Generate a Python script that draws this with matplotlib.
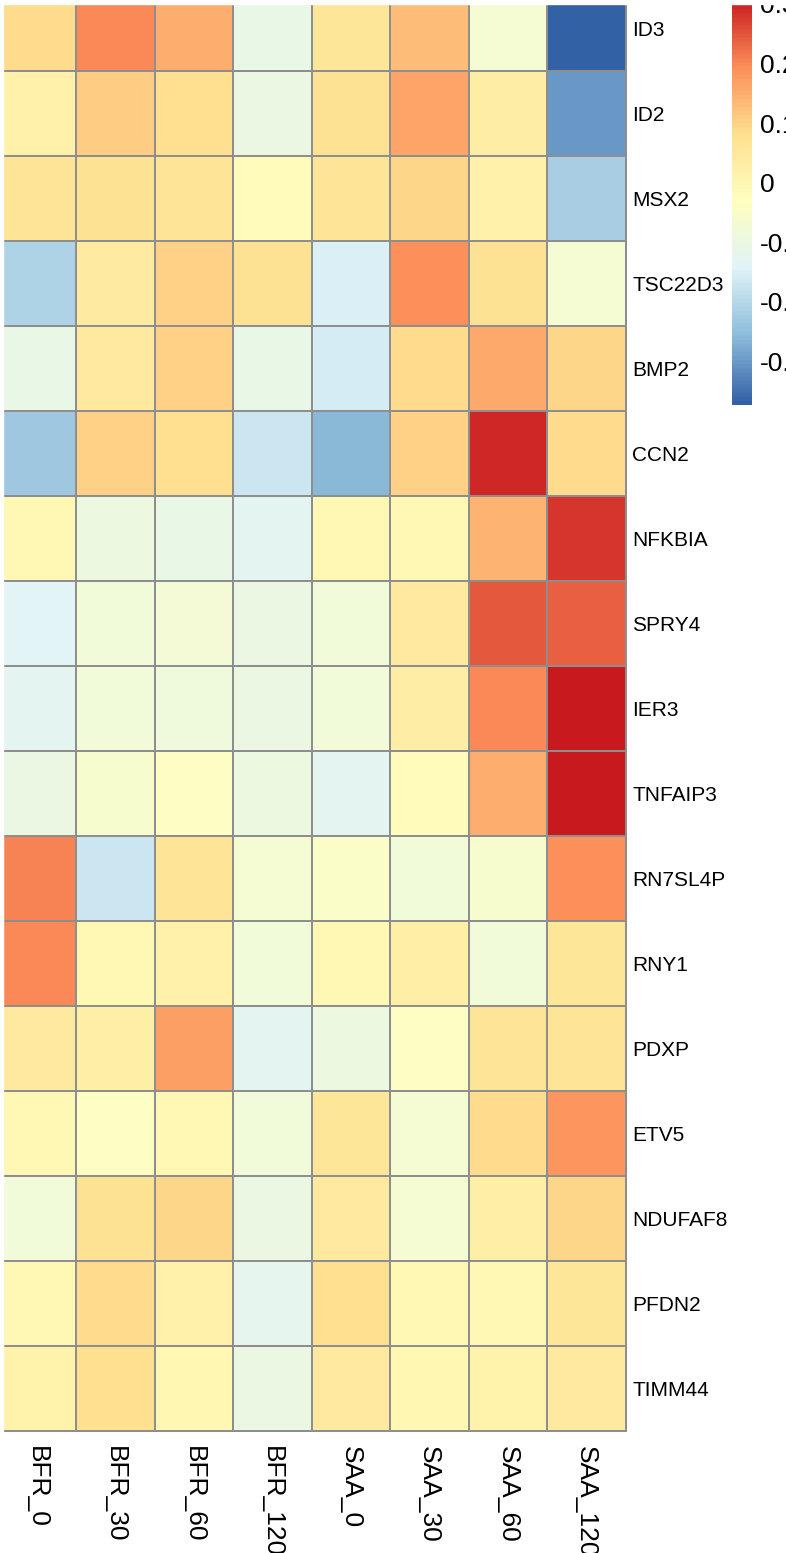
import numpy as np
import matplotlib
matplotlib.use("Agg")
import matplotlib.pyplot as plt
from matplotlib.colors import LinearSegmentedColormap
from matplotlib.patches import Rectangle

samples = ["BFR_0", "BFR_30", "BFR_60", "BFR_120", "SAA_0", "SAA_30", "SAA_60", "SAA_120"]
genes = ["ID3", "ID2", "MSX2", "TSC22D3", "BMP2", "CCN2", "NFKBIA", "SPRY4", "IER3",
         "TNFAIP3", "RN7SL4P", "RNY1", "PDXP", "ETV5", "NDUFAF8", "PFDN2", "TIMM44"]

# values, one list per gene (columns as in samples)
id3 = [0.09, 0.20, 0.15, -0.11, 0.06, 0.13, -0.07, -0.373]
id2 = [0.02, 0.11, 0.08, -0.10, 0.075, 0.16, 0.03, -0.30]
msx2 = [0.07, 0.075, 0.07, -0.02, 0.065, 0.095, 0.02, -0.22]
tsc22d3 = [-0.21, 0.04, 0.105, 0.075, -0.15, 0.19, 0.075, -0.07]
bmp2 = [-0.11, 0.05, 0.10, -0.11, -0.16, 0.085, 0.155, 0.095]
ccn2 = [-0.23, 0.10, 0.08, -0.17, -0.26, 0.105, 0.29, 0.085]
nfkbia = [-0.01, -0.095, -0.11, -0.13, -0.01, -0.01, 0.145, 0.28]
spry4 = [-0.14, -0.085, -0.075, -0.10, -0.08, 0.05, 0.245, 0.24]
ier3 = [-0.13, -0.08, -0.09, -0.10, -0.085, 0.035, 0.20, 0.31]
tnfaip3 = [-0.10, -0.06, -0.045, -0.095, -0.13, -0.02, 0.15, 0.305]
rn7sl4p = [0.205, -0.17, 0.07, -0.07, -0.05, -0.08, -0.06, 0.19]
rny1 = [0.20, -0.01, 0.02, -0.08, -0.01, 0.025, -0.08, 0.06]
pdxp = [0.05, 0.025, 0.17, -0.13, -0.095, -0.045, 0.07, 0.07]
etv5 = [-0.01, -0.045, -0.005, -0.08, 0.06, -0.07, 0.085, 0.185]
ndufaf8 = [-0.08, 0.075, 0.095, -0.10, 0.05, -0.07, 0.025, 0.095]
pfdn2 = [-0.01, 0.09, 0.02, -0.125, 0.08, -0.005, -0.005, 0.06]
timm44 = [0.01, 0.08, 0.0, -0.10, 0.05, 0.0, 0.015, 0.05]

cbar_ticks = [-0.3, -0.2, -0.1, 0, 0.1, 0.2, 0.3]
cbar_labels = ["-0.3", "-0.2", "-0.1", "0", "0.1", "0.2", "0.3"]

VMIN, VMAX = -0.373, 0.31
palette = ["#3361A6", "#8DBCDA", "#E0F3F8", "#FFFFBF", "#FEE090", "#FC8D59", "#C8191E"]
cmap = LinearSegmentedColormap.from_list("rdylbu_r", palette, N=100)

data = np.array([id3, id2, msx2, tsc22d3, bmp2, ccn2, nfkbia, spry4, ier3,
                 tnfaip3, rn7sl4p, rny1, pdxp, etv5, ndufaf8, pfdn2, timm44])

W, H = 786, 1553
fig = plt.figure(figsize=(W / 100, H / 100), dpi=100)

def px_axes(left, top, right, bottom):
    return fig.add_axes([left / W, 1 - bottom / H, (right - left) / W, (bottom - top) / H])

label_font = ["Liberation Sans", "DejaVu Sans"]

# heatmap
ax = px_axes(-2.5, -14, 625.5, 1431)
mesh = ax.pcolormesh(np.arange(len(samples) + 1), np.arange(len(genes) + 1), data,
                     cmap=cmap, vmin=VMIN, vmax=VMAX,
                     edgecolors="#8e8e8e", linewidth=1.1)
mesh.set_clip_on(False)
ax.set_xlim(0, len(samples))
ax.set_ylim(len(genes), 0)
for s in ax.spines.values():
    s.set_visible(False)

ax.yaxis.tick_right()
ax.set_yticks(np.arange(len(genes)) + 0.5)
ax.set_yticklabels(genes, family=label_font, fontsize=15)
ax.tick_params(axis="y", length=0, pad=5)

ax.set_xticks(np.arange(len(samples)) + 0.5)
ax.set_xticklabels(samples, rotation=270, family=label_font,
                   fontsize=19, va="top", ha="center")
ax.tick_params(axis="x", length=0, pad=11)

# colour key
cax = px_axes(732, -2, 752, 405)
grad = np.linspace(VMIN, VMAX, 200).reshape(-1, 1)
cax.imshow(grad, aspect="auto", origin="lower", cmap=cmap, vmin=VMIN, vmax=VMAX,
           extent=[0, 1, VMIN, VMAX])
cax.set_xticks([])
cax.yaxis.tick_right()
cax.set_yticks(cbar_ticks)
cax.set_yticklabels(cbar_labels, family=label_font, fontsize=19)
cax.tick_params(axis="y", length=0, pad=6)
for s in cax.spines.values():
    s.set_visible(False)

# crop margins of the original
fig.add_artist(Rectangle((0, 1 - 4 / H), 1, 4 / H, transform=fig.transFigure,
                         color="white", zorder=10))
fig.add_artist(Rectangle((0, 0), 3 / W, 1, transform=fig.transFigure,
                         color="white", zorder=10))

fig.savefig("out.png", dpi=100, facecolor="white")
